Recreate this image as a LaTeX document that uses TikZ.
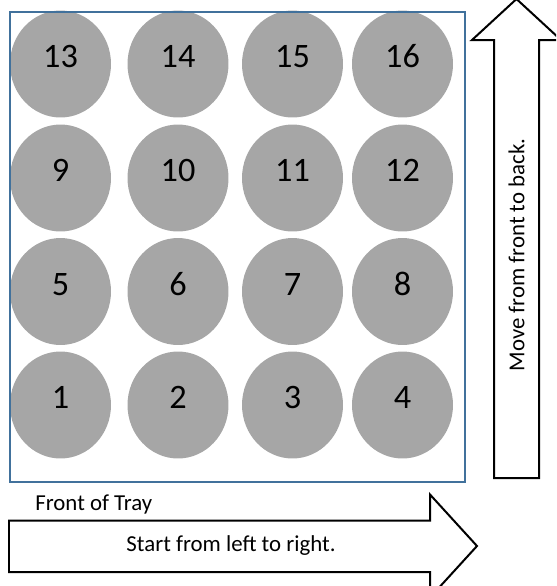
\documentclass[tikz,border=0pt]{standalone}
\usepackage{fontspec}
\setmainfont{Carlito}
\usepackage{tikz}
\usetikzlibrary{shapes.geometric}

\definecolor{wellgray}{HTML}{A6A6A6}
\definecolor{trayblue}{HTML}{41719C}

\begin{document}
\begin{tikzpicture}[
  x=0.02cm, y=-0.02cm,
  well/.style={ellipse, fill=wellgray, inner sep=0pt, minimum width=2.02cm, minimum height=2.14cm,
    font=\fontsize{19.5}{22}\selectfont, text height=0.43cm, text depth=0.28cm},
  bigarrow/.style={draw=black, fill=white, line width=0.04cm, line join=miter},
  caption/.style={font=\fontsize{13}{15.6}\selectfont, inner sep=0pt}
]
\useasboundingbox (0,0) rectangle (556,586);
\clip (0,0) rectangle (556,586);

% wells, front row first
\node[well] (w1) at (60.5,405) {1};
\node[well] (w2) at (178,405) {2};
\node[well] (w3) at (292.5,405) {3};
\node[well] (w4) at (402.5,405) {4};
\node[well] (w5) at (60.5,291.5) {5};
\node[well] (w6) at (178,291.5) {6};
\node[well] (w7) at (292.5,291.5) {7};
\node[well] (w8) at (402.5,291.5) {8};
\node[well] (w9) at (60.5,178) {9};
\node[well] (w10) at (178,178) {10};
\node[well] (w11) at (292.5,178) {11};
\node[well] (w12) at (402.5,178) {12};
\node[well] (w13) at (60.5,64) {13};
\node[well] (w14) at (178,64) {14};
\node[well] (w15) at (292.5,64) {15};
\node[well] (w16) at (402.5,64) {16};

% tray outline
\draw[trayblue, line width=0.04cm] (10,12) rectangle (465,482);
\node[caption, anchor=base west] (front) at (35,510.5) {Front of Tray};

% block arrows
\draw[bigarrow] (494,478) -- (494,40) -- (472,40) -- (516.5,-1) -- (561,40) -- (539,40) -- (539,478) -- cycle;
\node[caption, rotate=90] (move) at (516.5,255) {Move from front to back.};
\draw[bigarrow] (9,520.5) -- (430,520.5) -- (430,494.5) -- (477,546) -- (430,597.5) -- (430,572) -- (9,572) -- cycle;
\node[caption] (start) at (231,546) {Start from left to right.};
\end{tikzpicture}
\end{document}
